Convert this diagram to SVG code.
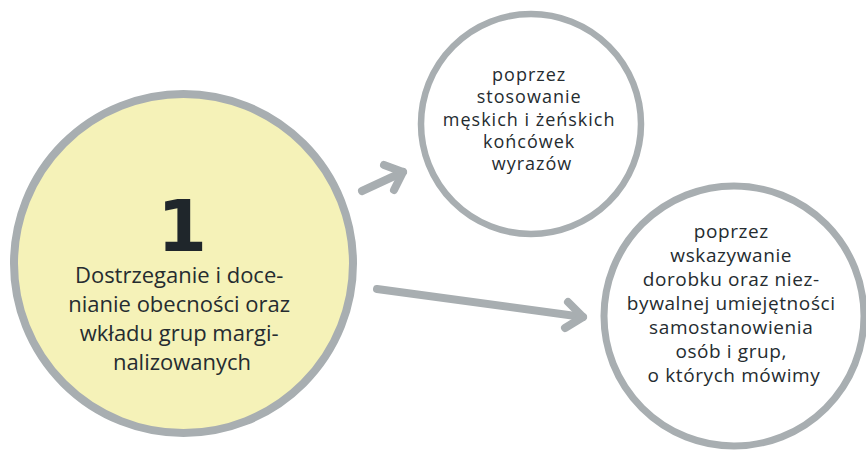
<svg xmlns="http://www.w3.org/2000/svg" width="866" height="451" viewBox="0 0 866 451">
<style>
.ring{stroke:#a8aeb1;}
.t{font-family:"Open Sans","Noto Sans",sans-serif;fill:#252c30;text-anchor:middle;}
.arrow{stroke:#a8aeb1;stroke-width:8;stroke-linecap:round;stroke-linejoin:round;fill:none;}
</style>
<rect width="866" height="451" fill="#ffffff"/>
<g id="node-main">
<circle class="ring" cx="183.5" cy="263.5" r="169.5" fill="#f5f2b8" stroke-width="8"/>
<text x="182" y="251" font-family="'DejaVu Sans',sans-serif" font-size="72" font-weight="bold" fill="#1f262b" text-anchor="middle">1</text>
<text class="t" font-size="22">
<tspan x="182" y="283">Dostrzeganie i doce-</tspan>
<tspan x="182" y="312">nianie obecności oraz</tspan>
<tspan x="182" y="341">wkładu grup margi-</tspan>
<tspan x="182" y="370">nalizowanych</tspan>
</text>
</g>
<g id="node-top">
<circle class="ring" cx="531" cy="124" r="110" fill="#ffffff" stroke-width="6.5"/>
<text class="t" font-size="18" letter-spacing="1">
<tspan x="532" y="81">poprzez</tspan>
<tspan x="532" y="103">stosowanie</tspan>
<tspan x="532" y="126">męskich i żeńskich</tspan>
<tspan x="532" y="148">końcówek</tspan>
<tspan x="532" y="170">wyrazów</tspan>
</text>
</g>
<g id="node-right">
<circle class="ring" cx="734" cy="316" r="130" fill="#ffffff" stroke-width="7"/>
<text class="t" font-size="19" letter-spacing="0.6">
<tspan x="734" y="238">poprzez</tspan>
<tspan x="734" y="262">wskazywanie</tspan>
<tspan x="734" y="286">dorobku oraz niez-</tspan>
<tspan x="734" y="310">bywalnej umiejętności</tspan>
<tspan x="734" y="334">samostanowienia</tspan>
<tspan x="734" y="358">osób i grup,</tspan>
<tspan x="734" y="382">o których mówimy</tspan>
</text>
</g>
<g id="connectors">
<path class="arrow" d="M362 191 L403 172"/>
<path class="arrow" d="M384 165 L403 172 L394 190"/>
<path class="arrow" d="M377 289 L583 317"/>
<path class="arrow" d="M568 302 L583 317 L565 328"/>
</g>
</svg>
